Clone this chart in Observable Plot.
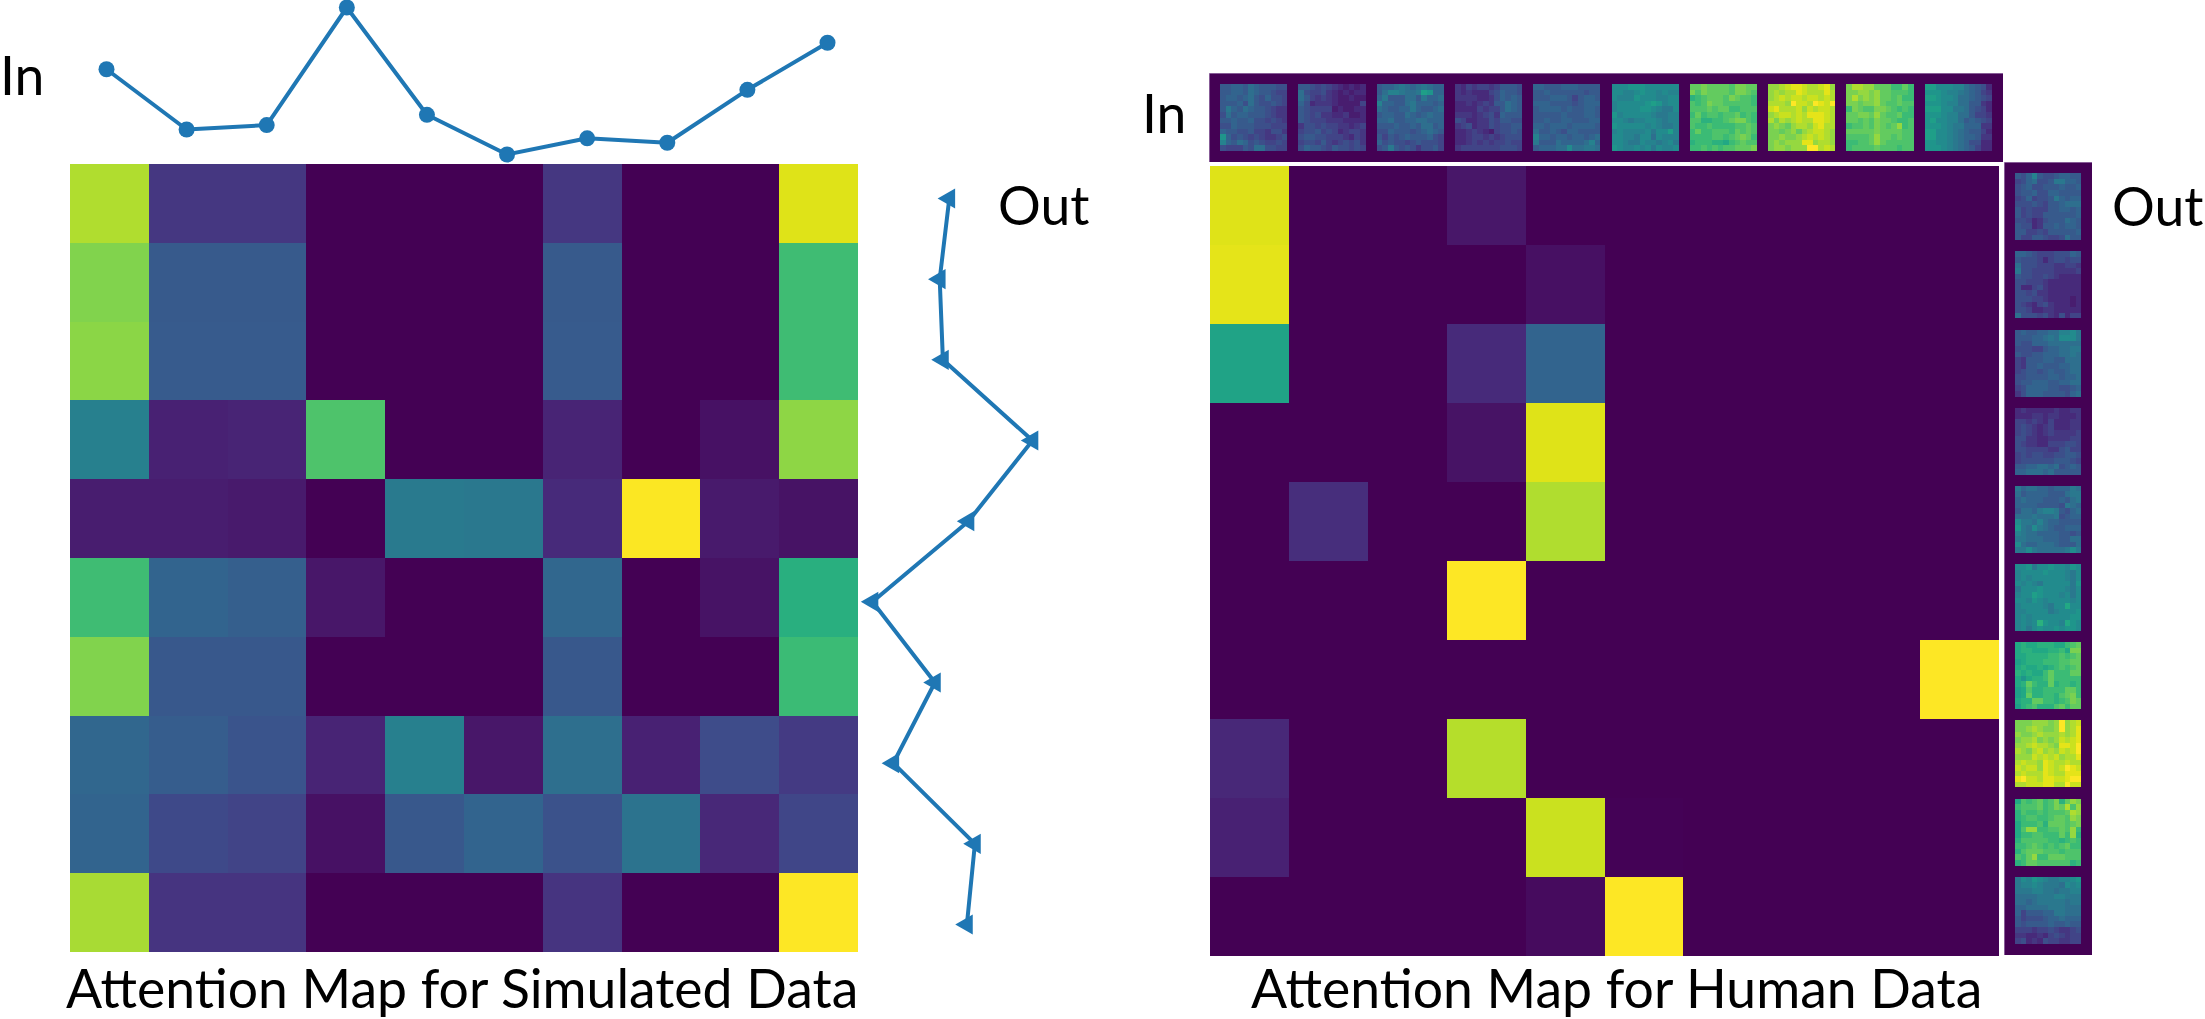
<!DOCTYPE html>
<html>
<head>
<meta charset="utf-8">
<script src="https://cdn.jsdelivr.net/npm/d3@7"></script>
<script src="https://cdn.jsdelivr.net/npm/@observablehq/plot@0.6"></script>
<style>
html,body{margin:0;padding:0;background:#fff;width:2205px;height:1019px;overflow:hidden;font-family:Lato,sans-serif}
#root{position:relative;width:2205px;height:1019px;overflow:hidden}
.box{position:absolute;line-height:0}
.label{position:absolute;color:#000;line-height:1;white-space:nowrap;font-family:Lato,sans-serif}
</style>
</head>
<body>
<div id="root"></div>
<script>
// ---------- values ----------
const simulatedMap = [
  [.88,.16,.16,0,0,0,.16,0,0,.95],
  [.81,.28,.28,0,0,0,.28,0,0,.69],
  [.825,.285,.285,0,0,0,.285,0,0,.69],
  [.43,.09,.10,.72,0,0,.10,0,.045,.83],
  [.08,.08,.07,0,.41,.40,.12,.995,.07,.05],
  [.69,.32,.30,.06,0,0,.33,0,.05,.63],
  [.81,.27,.27,0,0,0,.27,0,0,.68],
  [.33,.29,.26,.10,.43,.06,.36,.09,.23,.17],
  [.32,.22,.20,.045,.27,.32,.25,.38,.11,.21],
  [.87,.15,.15,0,0,0,.15,0,0,1]
];
const humanMap = [
  [.95,0,0,.06,0,0,0,0,0,0],
  [.96,0,0,0,.04,0,0,0,0,0],
  [.58,0,0,.12,.32,0,0,0,0,0],
  [0,0,0,.05,.95,0,0,0,0,0],
  [0,.13,0,0,.88,0,0,0,0,0],
  [0,0,0,1,0,0,0,0,0,0],
  [0,0,0,0,0,0,0,0,0,1],
  [.11,0,0,.89,0,0,0,0,0,0],
  [.09,0,0,0,.92,.005,0,0,0,0],
  [0,0,0,0,.03,1,0,0,0,0]
];
const inValues  = [.58,.17,.20,1,.27,0,.11,.08,.44,.76];
const outValues = [.48,.42,.44,1,.60,0,.39,.13,.64,.59];

// 12x12 input/output patches, one letter per pixel: a = 0 ... z = 1 on the colour scale
const inPatches = [
 ["hhiihjihhhgg","hhiihjihhgff","hiihijhgiggf","hhhigjhgghgf","hkihjihhgfee","gjhiihhhgfee","hhihhiggfgfe","ggihhhgggfff","ihhgghffegge","nighgfgfeefg","lihjighgffgf","gfffhgjjggff"],
 ["hhgfgfedcdcd","jgffgedcdcdd","jhfefedccdcc","igdeeedccccf","hgffffcdccdd","hgfgeeddeccd","hgfffeeedddd","eggfgffeedef","fgghfgfdeffe","ghhggfffedfe","fggfhfefgfge","gihhgfhggfgf"],
 ["hiijkjijkjii","hjllkjjkonii","ikhhhjjhkiij","liihhjkiiihi","jihhiikihhij","hiihhjihijii","iijhhiijjiii","hhhihhihjjhi","ggihhhghijih","hfhghihhhigf","ighggfghgggf","ghkhghgegghf"],
 ["edfeffefhhhg","ededddfgihhg","eeeeddegihih","ddedefehhjih","ddddfeffhjih","eeedefgeihhh","gfddeegfhhgg","efgdeegfgghh","ddefedcfgghg","ddeffefefggg","ddefefeffgff","efffffffgggf"],
 ["iihhhiiihhhh","hhihhhhhhghh","hhhiiihfhiih","iiihhhhghiii","hiiiihihhiih","hhhhhihhhiih","hhihhiihhhii","iihiiihiiiih","jhhihgiihhhh","liihiihiihij","khhhjiiiijli","hiiijjmjjkkj"],
 ["mmmnnnmmmmmm","mmllmnmmlmll","mlllnmmmllmm","lmmmmmnonlmm","lmmmmnnmlkkm","nlmmmmmlkkll","mmlkllmmlkll","nmmmmmlmlkkl","lmllllmkmmol","mmllkmmjmlll","mmlkkmllklmk","nmllmlmkmllm"],
 ["ttuttttsuutt","usuttttsuuts","qrstttsutssr","srsuttsssssr","ssststtrrsss","rtrssrsstrsr","ssqqrrstuusr","srrsrrrrssts","rtrrsssrtsts","rrrrssrstutr","qrrrqqprstss","rrsrsrsstttu"],
 ["vvwxyyxwwxyv","vwvwwyxwwwyw","vwxwxxwxxwxw","wwwvzxxwzyxz","xywwwxvxwxxw","vwxxwxwyyyxw","wuwvwxwwyyxw","uvutvwwvxyww","uutuvtvwxxwv","uuvuuvwxwxwv","uvuvvvyyvwwv","uvvuvvvzzwxw"],
 ["uwwvvtttrrtr","uuvvuvttsssr","uwuvuvttstrr","uutuuvtsstss","rutssuutsrsr","ttuutvtsstrr","ttstsuttsrrs","rsstsutstvrs","tttttuttttss","sssstvttstss","rrsstvtsssss","rsssstsssrss"],
 ["oommmlljihgd","nnnmllkjihfe","oonmmljjihgf","nnnmlljjhhed","ooommkkjhgfd","nnnmlljjhffe","nommlljhihgf","nnnmlkkiiiee","oommlkjihhfd","oommlkjiihee","nnmmlkjiggdd","nnnmlkjihfdd"]
];
const outPatches = [
 ["hgilhgghiihh","fgijgghkkiih","ghigghhhihhi","ghhiggiihhhh","fgifgghkihii","ggghgfhhijjj","hfgfffhhiihi","hfgffhhhhhhi","ggfdeghhhjih","hggdehhihiih","hhffgfhhhhhi","hffhhgffgjhh"],
 ["iihgfffgggih","hgggfdfggfgg","jgggfffeeffe","kggffffeeeef","hggffgfedddd","ggfffedddddd","gddfgedddddd","ggfgeedddddd","gggffeddddcd","gfedfgedddcd","ggfddeeddddd","jgggfgedgdff"],
 ["hihhiijjllmk","hhhiijkjmmmk","hggiiijjjjjj","gggffhiijjkk","hgghhiiijjkj","fehhhiihhjjj","fehhihhhiijj","fghhghihhijj","gghhhhiihiij","ghhiiihhiijj","fgiiiihhgghi","egiiihhhhgij"],
 ["dedddddeddee","dddeedeeddde","ffefedfdddee","fgfedefdddee","fgfedefeeeef","ggeeddeeeeff","gfeeddfffggf","ggffffeeghff","fgfggffgghhg","fgggggghhhgf","hhiijjijghih","iijjjijhhhhh"],
 ["kijjiihiiikj","jhiiiihhhjkk","ijiiihhhihjk","iiiihhhhgkji","hjjikllkhgij","jjjkjjjkghii","mkkjljiihhhh","nkjmkjihhiii","lkjjiiiihhgh","kkjjjiiihhjj","mjiijjjihhhj","kkmkjjjjjkmk"],
 ["mmnkmmnmmlnm","lmmmmnmmmlkm","lmlmmmmmmlkm","mlmlkmmmmmkn","kmmmnmmmmlkm","lmmonmmmlmkm","mmlnmlmmmmlm","lmmmmlkmmpmm","llmmmmklmmmn","lmlmmmmmmmnn","lmlmqnmmlpnm","lmkmnmmnmnnm"],
 ["pqppqqqpprst","pqqpppqqrpuu","ppqqqqrrsrst","opqqqrrrsstt","pqppqpqrsrst","qpqpprtrrrtt","pnpqqrtrrrrr","pqtrqqtqrrqr","opsqqrrrrttr","optqqrrqstur","pqqttrrqrsut","oqrsqqqstrtt"],
 ["uuuvvvuvzvwx","uuvwvuuvzvwy","vuuvwvvvwvwy","uvvwuvuvxwxy","vvwxwwvuyyxz","wvuwxvwvxwxz","vvvxwxwxvwwy","wxwwvyxwwxww","xwxxvyxwxzyx","wxwwwyxwwyyy","yzxxwyyxxyzz","wwxxxyywwzxx"],
 ["psrstrsuqtvu","rssstrsutwsv","qsrrsrssstwv","qrssrrsttsvu","prrrsqtttstu","psvvrrsstsvr","prrssrrrtrvq","qsssssrrqrsr","rrstsrsrstrr","qstttsssrsss","srtvrrtttsss","qrttssssssqr"],
 ["kmlnmlkkllmn","kllmlkkkjmlm","kkkllkkjkkll","jjjjkkkllkkk","jjijkkkkkjkk","iijjjjkkkjjj","ifhhhiikkjjj","hfggghiijiii","hghhhhihhihh","fffeffgfeefg","eeddedfgfeff","fgdedgffeeff"]
];
const titleSim = "Attention Map for Simulated Data";
const titleHum = "Attention Map for Human Data";
const lineColor = "#1f77b4";

// ---------- helpers ----------
const root = document.getElementById("root");
const color = {type:"linear", scheme:"viridis", domain:[0,1]};
const letterValue = ch => (ch.charCodeAt(0) - 97) / 25;

function place(plot, left, top) {
  const box = document.createElement("div");
  box.className = "box";
  box.style.left = left + "px";
  box.style.top = top + "px";
  box.appendChild(plot);
  root.appendChild(box);
}
function label(text, left, baseline, fs = 53.5) {
  const d = document.createElement("div");
  d.className = "label";
  d.textContent = text;
  d.style.left = left + "px";
  d.style.fontSize = fs + "px";
  d.style.top = (baseline - 0.887 * fs) + "px";
  root.appendChild(d);
}
const bare = {marginTop:0, marginRight:0, marginBottom:0, marginLeft:0};

function heat(matrix, left, top, w, h) {
  const rows = matrix.flatMap((r, y) => r.map((v, x) => ({x, y, v})));
  place(Plot.plot({
    ...bare, width:w, height:h, style:{background:"none"},
    x:{type:"band", domain:d3.range(10), padding:0, round:false, axis:null},
    y:{type:"band", domain:d3.range(10), padding:0, round:false, axis:null},
    color,
    marks:[Plot.cell(rows, {x:"x", y:"y", fill:"v", inset:0, shapeRendering:"crispEdges"})]
  }), left, top);
}

// strip of patches: 10 patches of 12x12 pixels, 2 pixels of gap, on a 16 x 142 pixel panel
function strip(patches, vertical, left, top, w, h) {
  const cells = patches.flatMap((p, k) => p.flatMap((row, r) => [...row].map((ch, c) => {
    const along = 2 + 14 * k + (vertical ? r : c);
    const across = 2 + (vertical ? c : r);
    return vertical ? {x:across, y:along, v:letterValue(ch)} : {x:along, y:across, v:letterValue(ch)};
  })));
  const nx = vertical ? 16 : 142, ny = vertical ? 142 : 16;
  place(Plot.plot({
    ...bare, width:w, height:h, style:{background:"none"},
    x:{type:"band", domain:d3.range(nx), padding:0, round:false, axis:null},
    y:{type:"band", domain:d3.range(ny), padding:0, round:false, axis:null},
    color,
    marks:[
      Plot.frame({fill:d3.interpolateViridis(0), stroke:"#6d3a85", strokeWidth:1, strokeOpacity:0.5}),
      Plot.cell(cells, {x:"x", y:"y", fill:"v", inset:0, shapeRendering:"crispEdges"})
    ]
  }), left, top);
}

// ---------- left panel ----------
place(Plot.plot({
  ...bare, width:800, height:164, style:{background:"none", overflow:"visible"},
  x:{domain:[0,9], range:[36,757], axis:null},
  y:{domain:[0,1], range:[154,7], axis:null},
  marks:[
    Plot.line(inValues, {x:(d,i)=>i, y:d=>d, stroke:lineColor, strokeWidth:4}),
    Plot.dot(inValues, {x:(d,i)=>i, y:d=>d, fill:lineColor, r:8})
  ]
}), 70, 0);

heat(simulatedMap, 70, 164, 788, 788);

place(Plot.plot({
  ...bare, width:200, height:780, style:{background:"none", overflow:"visible"},
  x:{domain:[0,1], range:[12,172], axis:null},
  y:{domain:[0,9], range:[28,754], axis:null},
  marks:[
    Plot.line(outValues, {x:d=>d, y:(d,i)=>i, stroke:lineColor, strokeWidth:4}),
    Plot.dot(outValues, {x:d=>d, y:(d,i)=>i, fill:lineColor, symbol:"triangle", rotate:-90, r:7.5})
  ]
}), 860, 170);

label("In", 0, 95);
label("Out", 998, 225);
label(titleSim, 66, 1008.5);

// ---------- right panel ----------
strip(inPatches, false, 1209, 73, 794, 89);
heat(humanMap, 1210, 166, 789, 790);
strip(outPatches, true, 2004, 162, 88, 793);

label("In", 1142, 133);
label("Out", 2112, 226);
label(titleHum, 1251, 1008.5);
</script>
</body>
</html>
